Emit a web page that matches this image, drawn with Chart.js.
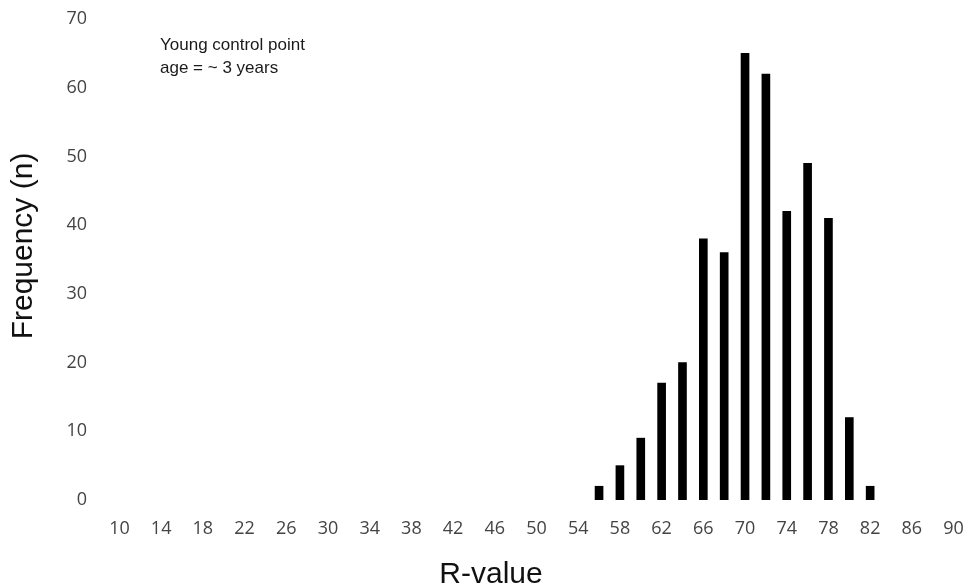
<!DOCTYPE html>
<html>
<head>
<meta charset="utf-8">
<script src="https://cdn.jsdelivr.net/npm/chart.js@4.4.1/dist/chart.umd.min.js"></script>
<style>
  html, body { margin: 0; padding: 0; background: #fff; }
  #wrap { width: 969px; height: 588px; }
</style>
</head>
<body>
<div id="wrap"><canvas id="chart"></canvas></div>
<script>
// R-value bins (step 2) and counts per bin
const rValues = [10, 12, 14, 16, 18, 20, 22, 24, 26, 28, 30, 32, 34, 36, 38, 40, 42, 44, 46, 48,
                 50, 52, 54, 56, 58, 60, 62, 64, 66, 68, 70, 72, 74, 76, 78, 80, 82, 84, 86, 88, 90];
const counts = [0, 0, 0, 0, 0, 0, 0, 0, 0, 0, 0, 0, 0, 0, 0, 0, 0, 0, 0, 0,
                0, 0, 0, 2, 5, 9, 17, 20, 38, 36, 65, 62, 42, 49, 41, 12, 2, 0, 0, 0, 0];
const yTicks = [0, 10, 20, 30, 40, 50, 60, 70];

const noteLines = ['Young control point', 'age = ~ 3 years'];
const xTitle = 'R-value';
const yTitle = 'Frequency (n)';

// axis titles and the note in the corner
const textPlugin = {
  id: 'texts',
  afterDraw(chart) {
    const ctx = chart.ctx;
    ctx.save();
    ctx.fillStyle = '#1a1a1a';
    ctx.font = '17px "Liberation Sans", Arial, sans-serif';
    ctx.textAlign = 'left';
    ctx.textBaseline = 'alphabetic';
    ctx.fillText(noteLines[0], 160, 50);
    ctx.fillText(noteLines[1], 160, 73);

    ctx.fillStyle = '#111';
    ctx.font = '30px "Liberation Sans", Arial, sans-serif';
    ctx.textAlign = 'center';
    ctx.fillText(xTitle, 491, 583);

    ctx.translate(32, 246);
    ctx.rotate(-Math.PI / 2);
    ctx.fillText(yTitle, 0, 0);
    ctx.restore();
  }
};

new Chart(document.getElementById('chart'), {
  type: 'bar',
  data: {
    labels: rValues,
    datasets: [{
      data: counts,
      // empty bins get no mark at all
      backgroundColor: (c) => (c.raw > 0 ? '#000' : 'rgba(0,0,0,0)'),
      borderWidth: 0,
      barThickness: 8
    }]
  },
  options: {
    responsive: true,
    maintainAspectRatio: false,
    animation: false,
    layout: { padding: { top: 19, right: 5, left: 0, bottom: 0 } },
    plugins: { legend: { display: false }, tooltip: { enabled: false } },
    scales: {
      x: {
        grid: { display: false, drawTicks: false },
        border: { display: false },
        ticks: {
          autoSkip: false,
          maxRotation: 0,
          padding: 18,
          color: '#444',
          font: { family: '"Open Sans", sans-serif', size: 18 },
          callback: (v, i) => (i % 2 === 0 ? rValues[i] : '')
        },
        afterFit: (s) => {
          s.height = 88;
          s.paddingLeft = 0;
          s.paddingRight = 0;
        }
      },
      y: {
        min: 0,
        max: 70,
        afterBuildTicks: (s) => { s.ticks = yTicks.map(v => ({ value: v })); },
        grid: { display: false, drawTicks: false },
        border: { display: false },
        ticks: {
          padding: 22,
          color: '#444',
          font: { family: '"Open Sans", sans-serif', size: 18 }
        },
        afterFit: (s) => {
          s.width = 109;
          s.paddingTop = 0;
          s.paddingBottom = 0;
        }
      }
    }
  },
  plugins: [textPlugin]
});
</script>
</body>
</html>
